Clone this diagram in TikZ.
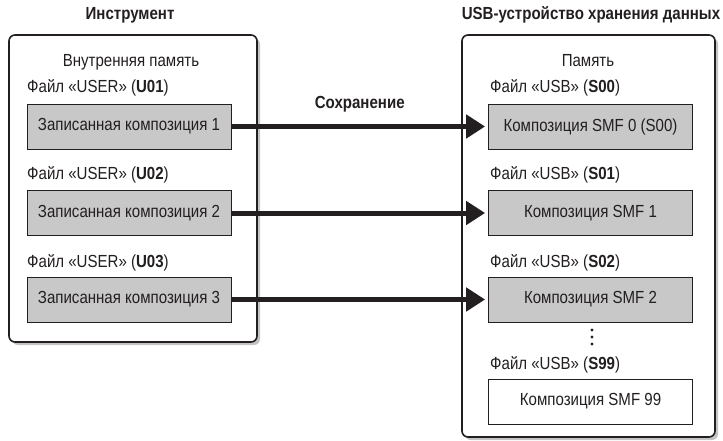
\documentclass[tikz,border=0pt]{standalone}
\usepackage{fontspec}
\setmainfont{Liberation Sans}[FakeStretch=0.86]
\usepackage{tikz}
\usetikzlibrary{
  positioning,
  arrows.meta,
  shadows
}
\usepackage{xcolor}
\definecolor{songfill}{HTML}{C8C8C8}
\definecolor{shade}{HTML}{C4C4C4}
\definecolor{ink}{HTML}{231F20}

\begin{document}
\begin{tikzpicture}[
  x=1pt, y=-1pt,
  every node/.style={text=ink, font=\fontsize{17.5}{19}\selectfont},
  device/.style={draw=ink, line width=1.6pt, rounded corners=6pt,
                 drop shadow={shadow xshift=3pt, shadow yshift=-3pt, fill=shade, opacity=1},
                 fill=white},
  song/.style={draw=ink, line width=0.8pt, fill=songfill, minimum width=204pt,
               minimum height=45pt, inner sep=0pt},
  empty/.style={song, fill=white},
  head/.style={font=\fontsize{17.5}{19}\selectfont\bfseries},
  file/.style={anchor=west, inner sep=0pt},
  save/.style={-{Triangle[length=19pt, width=23pt]}, line width=5pt, ink, shorten >=3pt}
]
  \useasboundingbox (0,0) rectangle (723,440);

  % Devices
  \node[device, minimum width=248pt, minimum height=307pt] (instr) at (133,188.5) {};
  \node[device, minimum width=253pt, minimum height=402pt] (usb) at (588.5,236) {};
  \node[head] (instrname) at (130,15) {Инструмент};
  \node[head] (usbname) at (591,15) {USB-устройство хранения данных};
  \node (intmem) at (131,62) {Внутренняя память};
  \node (usbmem) at (588,61) {Память};

  % Recorded songs
  \node[song] (u1) at (129,126.5) {Записанная композиция 1};
  \node[song] (u2) at (129,213) {Записанная композиция 2};
  \node[song] (u3) at (129,299.5) {Записанная композиция 3};
  \node[file] at (27,88) {Файл «USER» (\textbf{U01})};
  \node[file] at (27,175) {Файл «USER» (\textbf{U02})};
  \node[file] at (27,263) {Файл «USER» (\textbf{U03})};

  % SMF songs
  \node[song] (s0) at (590.5,126.5) {Композиция SMF 0 (S00)};
  \node[song] (s1) at (590.5,213) {Композиция SMF 1};
  \node[song] (s2) at (590.5,299.5) {Композиция SMF 2};
  \node[empty] (s99) at (590.5,401.5) {Композиция SMF 99};
  \node[file] at (490,88) {Файл «USB» (\textbf{S00})};
  \node[file] at (490,175) {Файл «USB» (\textbf{S01})};
  \node[file] at (490,263) {Файл «USB» (\textbf{S02})};
  \node[file] at (490,365) {Файл «USB» (\textbf{S99})};
  \foreach \y in {330,337,344}
    \fill[ink] (592,\y) circle (1.7pt);

  % Saving
  \draw[save] (u1) -- (s0) node[midway, above=9pt, head] {Сохранение};
  \draw[save] (u2) -- (s1);
  \draw[save] (u3) -- (s2);
\end{tikzpicture}
\end{document}
